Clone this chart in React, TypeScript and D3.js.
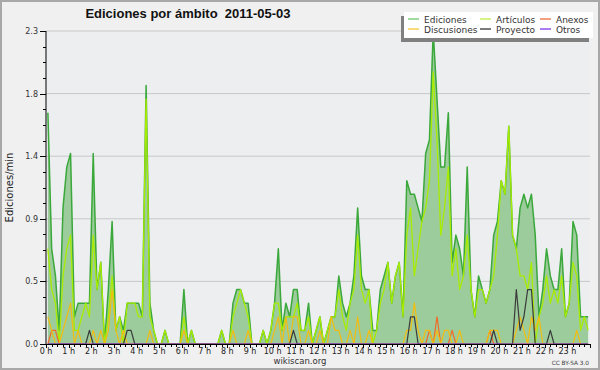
import React from 'react';
import * as d3 from 'd3';

const W = 600;
const H = 370;

const title = 'Ediciones por ámbito  2011-05-03';
const yLabel = 'Ediciones/min';
const footer = 'wikiscan.org';
const license = 'CC BY-SA 3.0';
const hourLabels = ['0 h','1 h','2 h','3 h','4 h','5 h','6 h','7 h','8 h','9 h','10 h','11 h','12 h','13 h','14 h','15 h','16 h','17 h','18 h','19 h','20 h','21 h','22 h','23 h'];
const yTickValues = [0, 0.46, 0.92, 1.38, 1.84, 2.3];
const legendNames = ['Ediciones', 'Artículos', 'Anexos', 'Discusiones', 'Proyecto', 'Otros'];

// edits per minute, one value per 10-minute bin (144 bins)
const ediciones = [
  1.7,0.7,0.5,0.1,1.0,1.3,1.4,0.2,0.3,0.3,0.3,0.3,
  1.4,0.4,0.6,0.0,0.4,0.9,0.1,0.2,0.1,0.3,0.3,0.3,
  0.3,0.2,1.9,0.3,0.1,0,0,0.1,0,0,0,0,
  0.4,0,0.1,0,0,0,0,0,0,0,0.1,0,
  0,0.3,0.4,0.4,0.3,0.3,0,0,0,0.1,0,0.1,
  0.3,0.7,0.1,0.3,0.2,0.4,0.4,0.1,0.1,0.3,0,0.1,
  0.2,0,0.1,0.2,0.2,0.5,0.3,0.2,0.3,0.5,1.0,0.5,
  0.4,0.4,0.1,0.1,0.4,0.5,0.6,0.3,0.5,0.6,0.2,1.2,
  1.1,1.1,1.0,0.9,1.4,1.5,2.3,1.8,1.3,1.3,1.7,0.6,
  0.8,0.7,0.5,1.3,0.4,0.2,0.5,0.4,0.3,0.4,0.8,0.9,
  1.2,1.1,1.6,0.8,0.7,1.0,1.1,1.0,1.1,0.8,0.2,0.4,
  0.7,0.5,0.4,0.4,0.7,0.2,0.3,0.9,0.8,0.2,0.2,0.2
];
const articulos = [
  0.7,0.4,0.3,0,0.5,0.7,0.8,0.1,0.1,0.2,0.3,0.2,
  0.8,0.4,0.6,0,0.2,0.5,0.1,0.2,0,0.3,0.3,0.3,
  0.2,0.2,1.8,0.2,0.1,0,0,0.1,0,0,0,0,
  0.2,0,0.1,0,0,0,0,0,0,0,0.1,0,
  0,0.2,0.3,0.4,0.3,0.2,0,0,0,0.1,0,0.1,
  0.3,0.3,0.1,0.2,0.2,0.2,0.3,0.1,0.1,0.2,0,0.1,
  0.2,0,0.1,0.2,0.2,0.4,0.2,0.1,0.3,0.4,0.8,0.4,
  0.3,0.4,0,0.1,0.3,0.4,0.6,0.3,0.5,0.6,0.2,0.8,
  1.0,0.5,0.7,0.9,1.0,1.2,2.0,1.5,0.8,1.0,1.3,0.5,
  0.7,0.4,0.5,0.8,0.4,0.2,0.4,0.4,0.3,0.4,0.5,0.8,
  1.2,1.1,1.6,0.8,0.7,0.5,0.5,0.4,0.6,0,0.2,0.3,
  0.5,0.3,0.4,0.3,0.5,0.2,0.3,0.6,0.5,0.1,0.2,0.1
];
const anexos = [
  0,0.1,0.1,0,0,0,0,0,0,0,0,0,
  0,0,0,0,0,0,0,0,0,0,0,0,
  0,0,0,0,0,0,0,0,0,0,0,0,
  0,0,0,0,0,0,0,0,0,0,0,0,
  0,0,0,0,0,0,0,0,0,0,0,0,
  0,0,0,0,0,0,0,0,0,0,0,0,
  0,0,0,0,0,0,0,0,0,0,0,0,
  0,0,0,0,0,0,0,0,0,0,0,0,
  0,0,0,0,0,0.1,0,0.2,0,0,0,0.1,
  0,0,0,0,0,0,0,0,0,0.1,0,0,
  0,0,0,0,0,0,0,0,0,0,0,0,
  0,0,0,0,0,0,0,0,0,0,0,0
];
const discusiones = [
  0.2,0.1,0,0,0.1,0.2,0.3,0,0.1,0,0,0,
  0.1,0,0.1,0,0.1,0.4,0.1,0,0.1,0,0,0,
  0,0,0,0.1,0,0,0,0,0,0,0,0,
  0.1,0,0,0,0,0,0,0,0,0,0,0,
  0,0.1,0,0,0,0.1,0,0,0,0,0,0,
  0.1,0.2,0,0.2,0,0.2,0.2,0,0,0.1,0,0,
  0.1,0,0,0.2,0.1,0.1,0,0,0.1,0,0.2,0,
  0,0.1,0,0,0,0,0,0,0,0,0,0.1,
  0.1,0.3,0.1,0,0.1,0.1,0,0.1,0,0.1,0.1,0,
  0,0.1,0,0,0,0,0,0,0,0.1,0.1,0.1,
  0,0,0,0,0.1,0.2,0.1,0,0.2,0.1,0.2,0,
  0,0,0,0,0,0,0,0,0.1,0,0,0
];
const proyecto = [
  0,0,0,0,0,0,0,0,0,0,0,0.1,
  0,0,0,0,0,0,0,0,0,0.1,0.1,0,
  0,0,0,0,0,0,0,0,0,0,0,0,
  0,0,0,0,0,0,0,0,0,0,0,0,
  0,0,0,0,0,0,0,0,0,0,0,0,
  0,0,0,0,0,0.1,0,0,0,0,0,0,
  0,0,0,0,0,0,0,0,0,0,0,0,
  0,0,0,0,0,0,0,0,0,0,0,0,
  0.2,0.2,0,0,0,0,0,0,0,0,0,0,
  0,0,0,0,0,0,0,0,0,0,0.1,0,
  0,0,0,0,0.4,0.1,0.2,0.4,0.4,0,0,0,
  0,0.1,0,0,0,0,0,0,0,0,0,0
];
const otros = [
  0,0,0,0,0,0,0,0,0,0,0,0,
  0,0,0,0,0,0,0,0,0,0,0,0,
  0,0,0,0,0,0,0,0,0,0,0,0,
  0,0,0,0,0,0,0,0,0,0,0,0,
  0,0,0,0,0,0,0,0,0,0,0,0,
  0,0,0,0,0,0,0,0,0,0,0,0,
  0,0,0,0,0,0,0,0,0,0,0,0,
  0,0,0,0,0,0,0,0,0,0,0,0,
  0,0,0,0,0,0,0,0,0,0,0,0,
  0,0,0,0,0,0,0,0,0,0,0,0,
  0,0,0,0,0,0,0,0,0,0,0,0,
  0,0,0,0,0,0,0,0,0,0,0,0
];

const FONT = '"DejaVu Sans", sans-serif';

export default function App() {
  const left = 46, right = 590, top = 31, bottom = 344;
  const x = d3.scaleLinear().domain([0, 144]).range([left, right]);
  const y = d3.scaleLinear().domain([0, 2.3]).range([bottom, top]);
  const px = (i: number) => x(i + 0.5);

  const area = d3.area<number>().x((_, i) => px(i)).y0(y(0)).y1(d => y(d));
  const line = d3.line<number>().x((_, i) => px(i)).y(d => y(d));

  const lines = [
    { data: ediciones, color: '#3aa83a', w: 1.5 },
    { data: articulos, color: '#a8ec00', w: 1.3 },
    { data: anexos, color: '#f06a28', w: 1.2 },
    { data: discusiones, color: '#f2bd10', w: 1.2 },
    { data: proyecto, color: '#3a3a3a', w: 1.2 },
    { data: otros, color: '#8a3ff0', w: 1.2 },
  ];
  const legendColors = ['#80d080', '#c8f060', '#f08050', '#f8d050', '#505050', '#9050f0'];

  const majorY = yTickValues;
  const minorY: number[] = [];
  for (let k = 0; k < majorY.length - 1; k++) {
    for (let m = 1; m < 4; m++) minorY.push(majorY[k] + (majorY[k + 1] - majorY[k]) * m / 4);
  }
  const xTicks = d3.range(0, 97).map(t => t * 1.5); // every 15 minutes in bin units

  const legendCols = [408, 480, 540];
  const legendRows = [19, 29];

  return (
    <svg width={W} height={H} style={{ position: 'absolute', left: 0, top: 0 }} fontFamily={FONT}>
      <rect x={0} y={0} width={W} height={H} fill="#f0f0f0" />
      <rect x={1} y={1} width={W - 2} height={H - 2} fill="none" stroke="#a8a8a8" strokeWidth={2} />
      <rect x={left} y={top} width={right - left} height={bottom - top} fill="#eceef0" />
      {majorY.slice(1).map((v, k) => (
        <line key={'g' + k} x1={left} x2={right} y1={y(v)} y2={y(v)} stroke="#c8c8c8" strokeWidth={1} />
      ))}
      <path d={area(ediciones) || ''} fill="#9ccb9c" />
      {lines.map((s, k) => (
        <path key={'l' + k} d={line(s.data) || ''} fill="none" stroke={s.color} strokeWidth={s.w} strokeLinejoin="round" />
      ))}
      {/* axes */}
      <line x1={left} x2={left} y1={top} y2={bottom} stroke="#000" strokeWidth={1} />
      <line x1={left} x2={right} y1={bottom + 0.5} y2={bottom + 0.5} stroke="#000" strokeWidth={1} />
      {majorY.map((v, k) => (
        <g key={'yt' + k}>
          <line x1={left - 6} x2={left} y1={Math.round(y(v)) + 0.5} y2={Math.round(y(v)) + 0.5} stroke="#000" />
          <text x={left - 8} y={y(v) + 3} fontSize={8} textAnchor="end" fill="#333">{v.toFixed(1)}</text>
        </g>
      ))}
      {minorY.map((v, k) => (
        <line key={'ym' + k} x1={left - 3} x2={left} y1={Math.round(y(v)) + 0.5} y2={Math.round(y(v)) + 0.5} stroke="#000" />
      ))}
      {xTicks.map((t, k) => (
        <line key={'xt' + k} x1={Math.round(x(t)) + 0.5} x2={Math.round(x(t)) + 0.5} y1={bottom} y2={bottom + (k % 4 === 0 ? 4 : 3)} stroke="#000" />
      ))}
      {hourLabels.map((h, k) => (
        <text key={'xl' + k} x={x(k * 6)} y={bottom + 10} fontSize={8} textAnchor="middle" fill="#222">{h}</text>
      ))}
      <text transform={`translate(13,${(top + bottom) / 2}) rotate(-90)`} fontSize={10} textAnchor="middle" fill="#222">{yLabel}</text>
      <text x={188} y={18} fontSize={13} fontWeight="bold" textAnchor="middle" fill="#111" style={{ whiteSpace: 'pre' }} fontFamily='"Liberation Sans", Arial, sans-serif'>{title}</text>
      {/* legend */}
      <rect x={401} y={16} width={188} height={26} fill="#808080" />
      <rect x={404} y={12} width={189} height={26} fill="#ffffff" />
      {legendNames.map((n, k) => {
        const col = k % 3, row = Math.floor(k / 3);
        const lx = legendCols[col], ly = legendRows[row];
        return (
          <g key={'lg' + k}>
            <line x1={lx} x2={lx + 11} y1={ly} y2={ly} stroke={legendColors[k]} strokeWidth={1.5} />
            <text x={lx + 16} y={ly + 3.5} fontSize={9} fill="#333">{n}</text>
          </g>
        );
      })}
      <text x={300} y={364} fontSize={8.5} textAnchor="middle" fill="#333">{footer}</text>
      <text x={589} y={365} fontSize={5.8} textAnchor="end" fill="#444">{license}</text>
    </svg>
  );
}
